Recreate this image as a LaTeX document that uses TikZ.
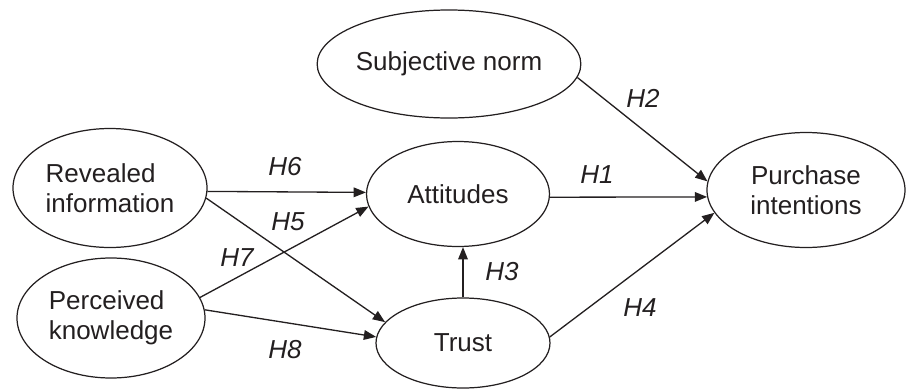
\documentclass[tikz,border=0pt]{standalone}
\usepackage{fontspec}
\setmainfont{Liberation Sans}
\usepackage{xcolor}
\usepackage{tikz}
\usetikzlibrary{shapes.geometric, arrows.meta, calc}

\definecolor{ink}{HTML}{231F20}

\tikzset{
    latent/.style={draw=ink, ellipse, line width=0.7pt, inner sep=0pt,
        text=ink, font=\fontsize{14.8}{17.2}\selectfont},
    link/.style={draw=ink, line width=0.75pt, -{Triangle[length=7pt,width=5.5pt]}},
    hyplabel/.style={text=ink, font=\fontsize{14.8}{17.2}\selectfont\itshape}
}

\begin{document}
\begin{tikzpicture}
    \useasboundingbox (0,0) rectangle (18.2,7.78);
    % constructs
    \node[latent, minimum width=3.88cm, minimum height=2.38cm, align=left] (rev) at (2.20,4.02) {Revealed\\information};
    \node[latent, minimum width=3.76cm, minimum height=2.40cm, align=left] (per) at (2.22,1.42) {Perceived\\knowledge};
    \node[latent, minimum width=4.56cm, minimum height=2.16cm] (sub) at (8.98,6.50) {Subjective norm};
    \node[latent, minimum width=3.66cm, minimum height=2.10cm] (att) at (9.16,3.90) {Attitudes};
    \node[latent, minimum width=3.48cm, minimum height=1.80cm] (tru) at (9.26,0.92) {Trust};
    \node[latent, minimum width=3.96cm, minimum height=2.30cm, align=center] (pur) at (16.12,3.98) {Purchase\\intentions};
    % paths
    \draw[link] (rev.-2) -- (att.179);
    \draw[link] (rev.-6.5) -- (tru.165);
    \draw[link] (per.13) -- (att.-172);
    \draw[link] (per.5) -- (tru.176);
    \draw[link] (tru.north) -- (tru.north |- att.south);
    \draw[link] (tru.4) -- (pur.-166.5);
    \draw[link] (att.-2) -- (pur.-176);
    \draw[link] (sub.-6.5) -- (pur.175.5);
    % hypotheses
    \node[hyplabel] (h1) at (11.94,4.28) {H1};
    \node[hyplabel] (h2) at (12.86,5.82) {H2};
    \node[hyplabel] (h3) at (10.04,2.34) {H3};
    \node[hyplabel] (h4) at (12.80,1.62) {H4};
    \node[hyplabel] (h5) at (5.76,3.34) {H5};
    \node[hyplabel] (h6) at (5.70,4.44) {H6};
    \node[hyplabel] (h7) at (4.74,2.62) {H7};
    \node[hyplabel] (h8) at (5.70,0.78) {H8};
\end{tikzpicture}
\end{document}
